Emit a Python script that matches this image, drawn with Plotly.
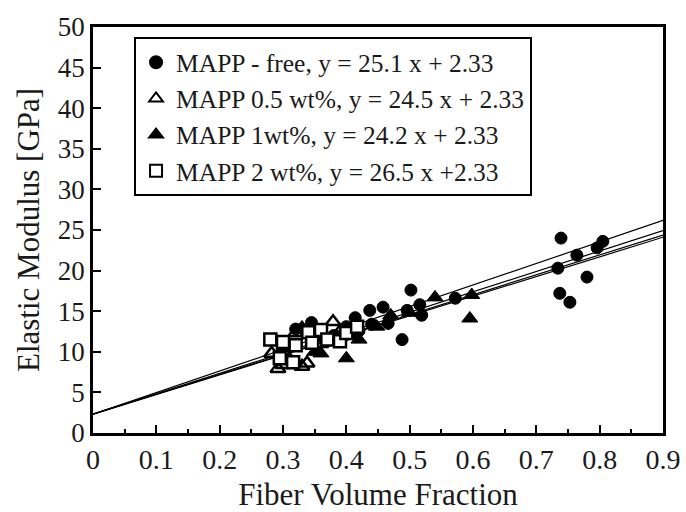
import plotly.graph_objects as go

# MAPP-free (filled circles)
free_x = [0.32, 0.345, 0.36, 0.38, 0.40, 0.414, 0.42, 0.437, 0.44, 0.458, 0.466, 0.488, 0.496, 0.502, 0.516, 0.519, 0.572,
          0.734, 0.737, 0.739, 0.753, 0.764, 0.780, 0.796, 0.805]
free_y = [12.8, 13.6, 12.3, 12.0, 13.1, 14.2, 12.6, 15.1, 13.4, 15.5, 13.5, 11.5, 15.1, 17.6, 15.8, 14.5, 16.6,
          20.3, 17.2, 24.0, 16.1, 21.9, 19.2, 22.8, 23.6]

# MAPP 0.5 wt% (open triangles)
half_x = [0.282, 0.292, 0.30, 0.31, 0.33, 0.338, 0.32, 0.35, 0.36, 0.379, 0.39, 0.41]
half_y = [9.8, 7.9, 8.4, 9.1, 8.2, 8.6, 12.3, 12.0, 11.0, 13.7, 12.5, 12.8]

# MAPP 1 wt% (filled triangles)
one_x = [0.30, 0.33, 0.35, 0.36, 0.38, 0.39, 0.40, 0.41, 0.42, 0.448, 0.47, 0.50, 0.54, 0.595, 0.598]
one_y = [10.5, 13.0, 10.0, 9.8, 11.5, 11.8, 9.2, 12.0, 11.5, 13.1, 14.5, 14.8, 16.7, 14.1, 17.0]

# MAPP 2 wt% (open squares)
two_x = [0.28, 0.295, 0.30, 0.316, 0.32, 0.34, 0.346, 0.36, 0.37, 0.39, 0.40, 0.417]
two_y = [11.5, 9.2, 11.2, 8.7, 10.8, 12.4, 11.1, 12.7, 11.5, 11.3, 12.3, 13.1]

# Fit lines y = a x + b
slopes = [25.1, 24.5, 24.2, 26.5]
intercept = 2.33
fit_x = [0.0, 0.9]

names = ["MAPP - free, y = 25.1 x + 2.33",
         "MAPP 0.5 wt%, y = 24.5 x + 2.33",
         "MAPP 1wt%, y = 24.2 x + 2.33",
         "MAPP 2 wt%, y = 26.5 x +2.33"]

x_ticks = [0, 0.1, 0.2, 0.3, 0.4, 0.5, 0.6, 0.7, 0.8, 0.9]
x_labels = ["0", "0.1", "0.2", "0.3", "0.4", "0.5", "0.6", "0.7", "0.8", "0.9"]
y_ticks = list(range(0, 51, 5))

FONT = "Liberation Serif, Times New Roman, serif"
TXT = "#1a1a1a"

fig = go.Figure()

for a in slopes:
    fig.add_trace(go.Scatter(x=fit_x, y=[a * v + intercept for v in fit_x], mode="lines",
                             line=dict(color="black", width=1.2), showlegend=False, hoverinfo="skip"))

fig.add_trace(go.Scatter(x=free_x, y=free_y, mode="markers", name=names[0], legendgroup="a",
                         marker=dict(symbol="circle", size=12, color="black", line=dict(color="black", width=1))))
fig.add_trace(go.Scatter(x=half_x, y=half_y, mode="markers", name=names[1], legendgroup="b",
                         marker=dict(symbol="triangle-up-open", size=13, color="black", line=dict(color="black", width=2.5))))
fig.add_trace(go.Scatter(x=one_x, y=one_y, mode="markers", name=names[2], legendgroup="c",
                         marker=dict(symbol="triangle-up", size=14, color="black", line=dict(color="black", width=1))))
fig.add_trace(go.Scatter(x=two_x, y=two_y, mode="markers", name=names[3], legendgroup="d",
                         marker=dict(symbol="square", size=12, color="white", line=dict(color="black", width=2.5))))

fig.add_annotation(text="Elastic Modulus [GPa]", textangle=-90, showarrow=False,
                   xref="paper", yref="paper", x=-0.114, y=0.5, xanchor="center", yanchor="middle",
                   font=dict(family=FONT, size=31, color=TXT))

fig.update_layout(
    width=686, height=512,
    margin=dict(l=93, r=23, t=27, b=79),
    paper_bgcolor="white", plot_bgcolor="white",
    font=dict(family=FONT, size=26, color=TXT),
    showlegend=True,
    legend=dict(x=0.072, y=0.975, xanchor="left", yanchor="top",
                bgcolor="white", bordercolor="black", borderwidth=2,
                font=dict(family=FONT, size=25.5, color=TXT),
                tracegroupgap=0, itemsizing="constant", itemwidth=30),
    xaxis=dict(range=[0, 0.9], tickvals=x_ticks, ticktext=x_labels, automargin=False,
               ticks="inside", ticklen=8, tickwidth=1.5, tickcolor="black",
               minor=dict(dtick=0.05, ticks="inside", ticklen=4, tickcolor="black"),
               showline=True, linecolor="black", linewidth=2.5, mirror=True,
               showgrid=False, zeroline=False,
               title=dict(text="Fiber Volume Fraction", font=dict(family=FONT, size=31), standoff=10),
               tickfont=dict(family=FONT, size=28)),
    yaxis=dict(range=[0, 50], tickvals=y_ticks, automargin=False,
               ticks="inside", ticklen=8, tickwidth=1.5, tickcolor="black",
               showline=True, linecolor="black", linewidth=2.5, mirror=True,
               showgrid=False, zeroline=False,
               tickfont=dict(family=FONT, size=27)),
)

fig.write_html("out.html")
